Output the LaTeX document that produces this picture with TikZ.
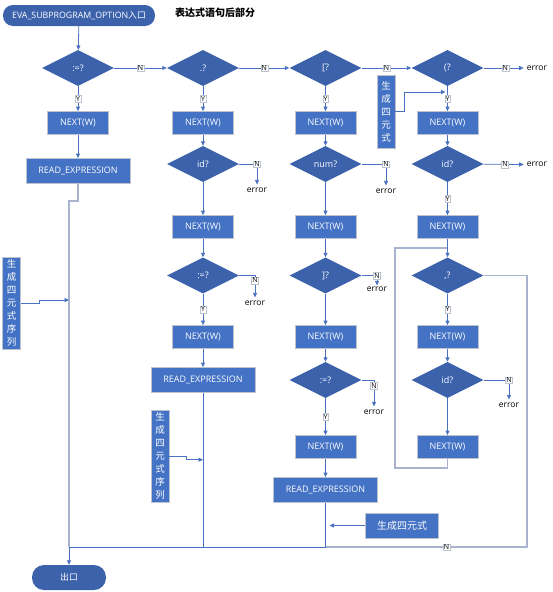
\documentclass[tikz,border=0pt]{standalone}
\usepackage{fontspec}
\setmainfont{Open Sans}
\newfontfamily\cjk{Noto Sans CJK SC}
\usetikzlibrary{shapes.geometric,arrows.meta}
\definecolor{bxblue}{HTML}{4472C4}
\definecolor{dmblue}{HTML}{3C62AC}
\definecolor{bxedge}{HTML}{BCC3CE}
\definecolor{lnblue}{HTML}{4A72C0}
\definecolor{lngray}{HTML}{A7B3CF}

\begin{document}
\begin{tikzpicture}[x=1pt,y=-1pt]
		\tikzset{
			bx/.style={rectangle, fill=bxblue, draw=bxedge, line width=0.8pt, text=white, minimum width=61pt, minimum height=23pt, inner sep=1pt, font=\fontsize{9}{10}\selectfont},
			rd/.style={bx, minimum width=104pt, minimum height=25pt},
			dm/.style={diamond, fill=dmblue, text=white, minimum width=72pt, minimum height=36pt, inner sep=0pt, font=\fontsize{9}{10}\selectfont},
			tm/.style={rectangle, rounded corners=10pt, fill=dmblue, text=white, inner sep=1pt, font=\fontsize{8.8}{10}\selectfont},
			vb/.style={bx, minimum width=18pt, minimum height=92pt, align=center, inner sep=0pt, font=\cjk\fontsize{9.5}{13}\selectfont},
			lb/.style={fill=white, draw=bxedge, line width=0.3pt, inner sep=0.8pt, text=black, font=\fontsize{7}{8}\selectfont},
			er/.style={inner sep=0pt, font=\fontsize{8.5}{9}\selectfont},
			ln/.style={draw=lnblue, line width=0.8pt},
			ar/.style={ln, -{Triangle[length=4.5pt,width=4pt]}},
			lg/.style={draw=lngray, line width=1.2pt}
		}
		\useasboundingbox (0,0) rectangle (553,592);

		\node[tm, minimum width=152pt, minimum height=21pt] (st) at (79,15.5) {EVA\_SUBPROGRAM\_OPTION{\cjk 入口}};
		\node[font=\cjk\bfseries\fontsize{10}{12}\selectfont] (tt) at (215,13) {表达式语句后部分};

		% column 1
		\node[dm] (c1) at (78,68) {:=?};
		\node[bx] (n1) at (78,123) {NEXT(W)};
		\node[rd] (r1) at (78,171) {READ\_EXPRESSION};
		\node[vb] (q1) at (11.5,303) {生\\成\\四\\元\\式\\序\\列};
		\node[tm, minimum width=74pt, minimum height=25pt, rounded corners=12pt] (ex) at (69,577.5) {{\cjk 出口}};

		% column 2
		\node[dm] (c2) at (203,68) {.?};
		\node[bx] (n2) at (203,123) {NEXT(W)};
		\node[dm] (i2) at (203,164) {id?};
		\node[er] (e2) at (257,190) {error};
		\node[bx] (n2b) at (203,227) {NEXT(W)};
		\node[dm] (c2b) at (203,275.5) {:=?};
		\node[er] (e2b) at (255,303) {error};
		\node[bx] (n2c) at (203,337) {NEXT(W)};
		\node[rd] (r2) at (203,380) {READ\_EXPRESSION};
		\node[vb] (q2) at (160,456) {生\\成\\四\\元\\式\\序\\列};

		% column 3
		\node[dm] (c3) at (325.5,68) {[?};
		\node[bx] (n3) at (325.5,123) {NEXT(W)};
		\node[dm] (i3) at (325.5,164) {num?};
		\node[er] (e3) at (386,191) {error};
		\node[bx] (n3b) at (325.5,227) {NEXT(W)};
		\node[dm] (k3) at (325.5,275.5) {]?};
		\node[er] (e3b) at (377,289) {error};
		\node[bx] (n3c) at (325.5,337) {NEXT(W)};
		\node[dm] (c3b) at (325.5,380) {:=?};
		\node[er] (e3c) at (374,412) {error};
		\node[bx] (n3d) at (325.5,447) {NEXT(W)};
		\node[rd] (r3) at (325.5,490) {READ\_EXPRESSION};
		\node[bx, font=\cjk\fontsize{10}{11}\selectfont, minimum width=73pt, minimum height=25pt] (q3) at (402,525.5) {生成四元式};

		% column 4
		\node[dm] (c4) at (447.5,68) {(?};
		\node[er] (e4) at (537,68) {error};
		\node[vb, minimum height=73pt] (q4) at (386,111.5) {生\\成\\四\\元\\式};
		\node[bx] (n4) at (447.5,123) {NEXT(W)};
		\node[dm] (i4) at (447.5,164) {id?};
		\node[er] (e4b) at (537,164.5) {error};
		\node[bx] (n4b) at (447.5,227) {NEXT(W)};
		\node[dm] (k4) at (447.5,275.5) {,?};
		\node[bx] (n4c) at (447.5,337) {NEXT(W)};
		\node[dm] (i4b) at (447.5,380) {id?};
		\node[er] (e4c) at (509,405) {error};
		\node[bx] (n4d) at (447.5,447) {NEXT(W)};

		\coordinate (j1) at (69,547);
		\coordinate (j3) at (325.5,547);
		\coordinate (j4) at (527,547);
		\coordinate (m1) at (69,300);
		\coordinate (m2) at (203,459.7);
		\coordinate (m3) at (329.5,525.5);
		\coordinate (m4) at (445.5,92);
		\coordinate (lp) at (395,248);
		\coordinate (lq) at (395,468);
		\coordinate (lr) at (447.5,248);

		\draw[ar] (st) to (c1);
		\draw[ar] (c1) to node[lb]{Y} (n1);
		\draw[ar] (n1) to (r1);
		\draw[lg] (r1.south) -- ++(0,17) -| (j1);
		\draw[ar] (j1) to (ex);
		\draw[ar] (q1.east) -- ++(18.5,0) |- (m1);

		\draw[ar] (c1) to node[lb]{N} (c2);
		\draw[ar] (c2) to node[lb]{N} (c3);
		\draw[ar] (c3) to node[lb]{N} (c4);
		\draw[ar, shorten >=3pt] (c4) to node[lb]{N} (e4.west);

		\draw[ar] (c2) to node[lb]{Y} (n2);
		\draw[ar] (n2) to (i2);
		\draw[ar, shorten >=3pt] (i2) -| node[lb, pos=0.5]{N} (e2.north);
		\draw[ar] (i2) to (n2b);
		\draw[ar] (n2b) to (c2b);
		\draw[ar, shorten >=3pt] (c2b) -| node[lb, pos=0.6]{N} (e2b.north);
		\draw[ar] (c2b) to node[lb]{Y} (n2c);
		\draw[ar] (n2c) to (r2);
		\draw[ln] (r2) -- (r2 |- j1);
		\draw[ar] (q2.east) -- ++(17,0) |- (m2);

		\draw[ar] (c3) to node[lb]{Y} (n3);
		\draw[ar] (n3) to (i3);
		\draw[ar, shorten >=3pt] (i3) -| node[lb, pos=0.5]{N} (e3.north);
		\draw[ar] (i3) to (n3b);
		\draw[ar] (n3b) to (k3);
		\draw[ar, shorten >=1pt] (k3) -| node[lb, pos=0.5]{N} (e3b.north);
		\draw[ar] (k3) to (n3c);
		\draw[ar] (n3c) to (c3b);
		\draw[ar, shorten >=3pt] (c3b) -| node[lb, pos=0.6]{N} (e3c.north);
		\draw[ar] (c3b) to node[lb]{Y} (n3d);
		\draw[ar] (n3d) to (r3);
		\draw[ln] (r3) -- (j3);
		\draw[ar] (q3) to (m3);

		\draw[ar] (c4) to node[lb]{Y} (n4);
		\draw[ar] (q4.east) -- ++(9,0) |- (m4);
		\draw[ar] (n4) to (i4);
		\draw[ar, shorten >=3pt] (i4) to node[lb]{N} (e4b.west);
		\draw[ar] (i4) to node[lb]{Y} (n4b);
		\draw[lg] (n4d) |- (lq) -- (lp) -- (lr);
		\draw[ar] (n4b) to (k4);
		\draw[ar] (k4) to node[lb]{Y} (n4c);
		\draw[ar] (n4c) to (i4b);
		\draw[ar] (i4b) to (n4d);
		\draw[ar, shorten >=3pt] (i4b) -| node[lb, pos=0.5]{N} (e4c.north);
		\draw[lg] (k4) -| (j4) -- node[lb, pos=0.4]{N} (j3);
		\draw[ln] (j3) -- (j1);

	\end{tikzpicture}
\end{document}
